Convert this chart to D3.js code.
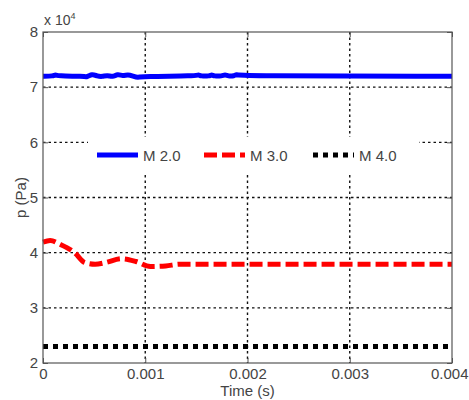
<!DOCTYPE html>
<html><head><meta charset="utf-8">
<script src="https://cdn.jsdelivr.net/npm/d3@7"></script>
<style>
body{margin:0;background:#fff;}
svg{display:block;font-family:"Liberation Sans",Arial,sans-serif;}
</style></head>
<body><svg id="c" width="469" height="400"></svg>
<script>
const xTicks = [0, 0.001, 0.002, 0.003, 0.004];
const xTickLabels = ["0", "0.001", "0.002", "0.003", "0.004"];
const yTicks = [2, 3, 4, 5, 6, 7, 8];
const yTickLabels = ["2", "3", "4", "5", "6", "7", "8"];
const seriesNames = ["M 2.0", "M 3.0", "M 4.0"];
const m2Time = [0, 0.0001, 0.00012, 0.00014, 0.0004, 0.00043, 0.00048, 0.00053, 0.00058, 0.00063, 0.00068, 0.00073, 0.00078, 0.00083, 0.00088, 0.00093, 0.00097, 0.0015, 0.00152, 0.00154, 0.00163, 0.00165, 0.00167, 0.00175, 0.00178, 0.00181, 0.00187, 0.00189, 0.00191, 0.004];
const m2Vals = [7.2, 7.2, 7.23, 7.2, 7.2, 7.18, 7.24, 7.2, 7.19, 7.22, 7.18, 7.24, 7.2, 7.23, 7.2, 7.17, 7.2, 7.2, 7.23, 7.2, 7.2, 7.23, 7.2, 7.2, 7.23, 7.2, 7.2, 7.24, 7.2, 7.2];
const m3Time = [0, 0.00007, 0.00017, 0.00031, 0.00041, 0.00051, 0.00061, 0.00077, 0.00091, 0.00105, 0.0012, 0.00134, 0.004];
const m3Vals = [4.19, 4.22, 4.15, 4.0, 3.82, 3.79, 3.82, 3.89, 3.84, 3.75, 3.76, 3.79, 3.79];
const m4Time = [0, 0.004];
const m4Vals = [2.3, 2.3];

const svg = d3.select("#c");
const L = 43, R = 452, T = 32, B = 363;
const x = d3.scaleLinear().domain([0, 0.004]).range([L, R]);
const y = d3.scaleLinear().domain([2, 8]).range([B, T]);
const textCol = "#444";
const fs = "15px";

// grid
const g = svg.append("g");
g.selectAll(".vg").data(xTicks.slice(1, -1)).enter().append("line")
  .attr("x1", d => x(d)).attr("x2", d => x(d)).attr("y1", T).attr("y2", B)
  .attr("stroke", "#111").attr("stroke-width", 1.4).attr("stroke-dasharray", "2.5,3");
g.selectAll(".hg").data(yTicks.slice(1, -1)).enter().append("line")
  .attr("x1", L).attr("x2", R).attr("y1", d => y(d)).attr("y2", d => y(d))
  .attr("stroke", "#111").attr("stroke-width", 1.4).attr("stroke-dasharray", "2.5,3");

// axes
const xAxis = d3.axisBottom(x).tickValues(xTicks).tickFormat((d, i) => xTickLabels[i]).tickSizeInner(-5).tickSizeOuter(0).tickPadding(9);
const yAxis = d3.axisLeft(y).tickValues(yTicks).tickFormat((d, i) => yTickLabels[i]).tickSizeInner(-5).tickSizeOuter(0).tickPadding(5);
const xa = svg.append("g").attr("transform", `translate(0,${B})`).call(xAxis);
const ya = svg.append("g").attr("transform", `translate(${L},0)`).call(yAxis);
[xa, ya].forEach(a => {
  a.select(".domain").remove();
  a.selectAll("line").attr("stroke", "#555");
  a.selectAll("text").attr("fill", textCol).style("font-size", fs).style("font-family", "'Liberation Sans',Arial,sans-serif");
});
xa.selectAll("text").attr("dy", "0.71em").attr("y", 5);
// keep the last label inside the canvas
xa.selectAll("text").filter((d, i) => i === xTicks.length - 1).attr("text-anchor", "end").attr("x", 16);
// top/right mirrored ticks
const xAxisTop = d3.axisTop(x).tickValues(xTicks).tickFormat("").tickSizeInner(-5).tickSizeOuter(0);
svg.append("g").attr("transform", `translate(0,${T})`).call(xAxisTop).call(a => { a.select(".domain").remove(); a.selectAll("line").attr("stroke", "#555"); });
const yAxisRight = d3.axisRight(y).tickValues(yTicks).tickFormat("").tickSizeInner(-5).tickSizeOuter(0);
svg.append("g").attr("transform", `translate(${R},0)`).call(yAxisRight).call(a => { a.select(".domain").remove(); a.selectAll("line").attr("stroke", "#555"); });

// exponent label
const ex = svg.append("text").attr("x", L + 1).attr("y", T - 7).attr("fill", textCol).style("font-size", "14px");
ex.append("tspan").text("x 10");
ex.append("tspan").text("4").attr("dy", -6).style("font-size", "9px");

// lines
const line = d3.line().x(d => x(d[0])).y(d => y(d[1])).curve(d3.curveMonotoneX);
const plotG = svg.append("g");
plotG.append("path").datum(m4Time.map((t, i) => [t, m4Vals[i]]))
  .attr("d", line).attr("fill", "none").attr("stroke", "#000").attr("stroke-width", 5).attr("stroke-dasharray", "5,5");
plotG.append("path").datum(m3Time.map((t, i) => [t, m3Vals[i]]))
  .attr("d", line).attr("fill", "none").attr("stroke", "#ff0000").attr("stroke-width", 5).attr("stroke-dasharray", "13,5");
plotG.append("path").datum(m2Time.map((t, i) => [t, m2Vals[i]]))
  .attr("d", d3.line().x(d => x(d[0])).y(d => y(d[1])).curve(d3.curveBasis)).attr("fill", "none").attr("stroke", "#0000ff").attr("stroke-width", 5);

// legend
const lg = svg.append("g");
lg.append("rect").attr("x", 88).attr("y", 137).attr("width", 331).attr("height", 37).attr("fill", "#fff");
const legItems = [
  {name: seriesNames[0], color: "#0000ff", dash: null, x0: 97},
  {name: seriesNames[1], color: "#ff0000", dash: "13,5", x0: 204},
  {name: seriesNames[2], color: "#000", dash: "5,5", x0: 313}
];
legItems.forEach(it => {
  lg.append("line").attr("x1", it.x0).attr("x2", it.x0 + 41).attr("y1", 155).attr("y2", 155)
    .attr("stroke", it.color).attr("stroke-width", 5).attr("stroke-dasharray", it.dash);
  lg.append("text").attr("x", it.x0 + 46).attr("y", 160.5).attr("fill", textCol).style("font-size", fs).text(it.name);
});

// box
svg.append("rect").attr("x", L).attr("y", T).attr("width", R - L).attr("height", B - T)
  .attr("fill", "none").attr("stroke", "#555").attr("stroke-width", 1.2);

// axis titles
svg.append("text").attr("x", (L + R) / 2).attr("y", 396).attr("text-anchor", "middle").attr("fill", textCol).style("font-size", fs).text("Time (s)");
svg.append("text").attr("transform", `translate(26,${(T + B) / 2}) rotate(-90)`).attr("text-anchor", "middle").attr("fill", textCol).style("font-size", fs).text("p (Pa)");
</script></body></html>
